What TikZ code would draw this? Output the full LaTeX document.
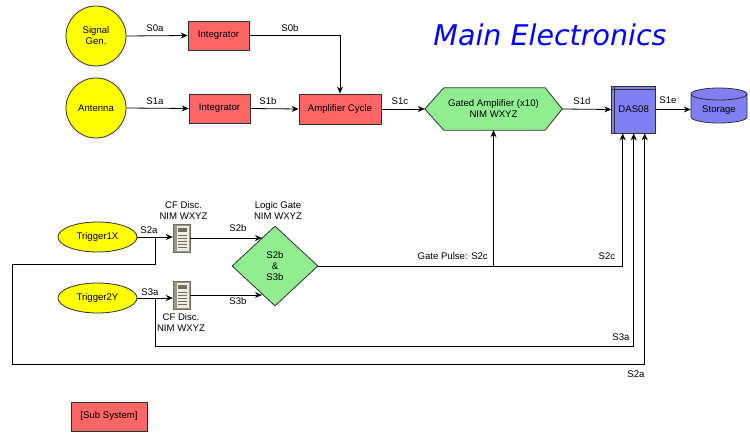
\documentclass[tikz,border=0pt]{standalone}
\usepackage{fontspec}
\setmainfont{Liberation Sans}
\newfontfamily\titlefont{DejaVu Sans}
\usetikzlibrary{arrows.meta,shapes.geometric,calc}
\definecolor{cyel}{HTML}{FFFF00}
\definecolor{cred}{HTML}{FF6666}
\definecolor{cgreen}{HTML}{90EE90}
\definecolor{cblue}{HTML}{8080F4}
\definecolor{cline}{HTML}{303030}
\definecolor{srvdark}{HTML}{9A9A80}
\definecolor{srvlight}{HTML}{ECECE0}
\definecolor{srvslot}{HTML}{6E6E60}
\newcommand{\labfont}{\fontsize{9.6}{11}\selectfont}
\tikzset{
  lab/.style={font=\labfont, inner sep=0pt},
  srcnode/.style={circle, draw=cline, line width=0.8pt, fill=cyel, minimum size=60pt, inner sep=0pt, font=\labfont, align=center},
  trig/.style={ellipse, draw=cline, line width=0.8pt, fill=cyel, minimum width=79pt, minimum height=30pt, inner sep=0pt, font=\labfont},
  subsys/.style={rectangle, draw=cline, line width=0.8pt, fill=cred, inner sep=0pt, font=\labfont},
  blank/.style={rectangle, draw=none, inner sep=0pt, font=\labfont, align=center},
  conn/.style={line width=0.8pt, draw=black},
  arr/.style={conn, -{Stealth[length=7pt,width=6pt]}},
  srv/.pic={
    \fill[srvdark] (-8.5,-14) rectangle (8.5,14);
    \fill[srvlight] (-5,-12.5) rectangle (7,12.5);
    \draw[srvslot, line width=0.4pt] (-8.5,-14) rectangle (8.5,14);
    \fill[srvslot] (-3.5,-10.5) rectangle (5.5,-6.5);
    \foreach \yy in {-3,0,3,6,9} {\draw[srvslot, line width=0.5pt] (-3.5,\yy) -- (5.5,\yy);}
  }
}
\begin{document}
\begin{tikzpicture}[x=1pt,y=-1pt]
\useasboundingbox (0,0) rectangle (750,433);
% title
\node (title) at (550,35) {\titlefont\itshape\fontsize{28.5}{32}\selectfont\color{blue}Main Electronics};
% top row
\node[srcnode] (sig) at (96,36) {Signal\\Gen.};
\node[srcnode] (ant) at (96,108) {Antenna};
\node[subsys, minimum width=61pt, minimum height=29pt] (int1) at (218.5,35.5) {Integrator};
\node[subsys, minimum width=61pt, minimum height=29pt] (int2) at (219.5,108.5) {Integrator};
\node[subsys, minimum width=82pt, minimum height=30pt] (amp) at (340,109) {Amplifier Cycle};
% gated amplifier hexagon
\node[blank, minimum width=137pt, minimum height=42pt] (gamp) at (493.5,109) {};
\draw[draw=cline, line width=0.8pt, fill=cgreen] (gamp.west) -- ($(gamp.north west)+(19,0)$) -- ($(gamp.north east)+(-17,0)$) -- (gamp.east) -- ($(gamp.south east)+(-17,0)$) -- ($(gamp.south west)+(19,0)$) -- cycle;
\node[blank] (gampt) at (gamp.center) {Gated Amplifier (x10)\\NIM WXYZ};
% DAS08
\node[subsys, fill=cblue, minimum width=44pt, minimum height=47pt] (das) at (633.7,109.5) {DAS08};
\draw[cline, line width=0.8pt] ($(das.north west)+(3.5,0)$) -- ($(das.south west)+(3.5,0)$);
\draw[cline, line width=0.8pt] ($(das.north west)+(0,3.5)$) -- ($(das.north east)+(0,3.5)$);
% storage cylinder
\node[blank, minimum width=56pt, minimum height=35pt] (sto) at (719,109) {};
\draw[draw=cline, line width=0.8pt, fill=cblue] (691,94) arc[start angle=180, end angle=360, x radius=28, y radius=6] -- (747,117) arc[start angle=0, end angle=180, x radius=28, y radius=6] -- cycle;
\draw[cline, line width=0.8pt] (691,94) arc[start angle=180, end angle=0, x radius=28, y radius=6];
\node[blank] (stot) at (719,110) {Storage};
% top connectors
\draw[arr] (sig.east) -- (int1.west);
\node[lab] (l0a) at (155,28) {S0a};
\draw[arr] (int1.east) -| (amp.north);
\node[lab] (l0b) at (290,28) {S0b};
\draw[arr] (ant.east) -- (int2.west);
\node[lab] (l1a) at (155,101) {S1a};
\draw[arr] (int2.east) -- (amp.west);
\node[lab] (l1b) at (268,101) {S1b};
\draw[arr] (amp.east) -- (gamp.west);
\node[lab] (l1c) at (400,101) {S1c};
\draw[arr] (gamp.east) -- (das.west);
\node[lab] (l1d) at (582,101) {S1d};
\draw[arr] (das.east) -- (das.east -| sto.west);
\node[lab] (l1e) at (668,100) {S1e};
% triggers
\node[trig] (t1) at (97.5,237) {Trigger1X};
\node[trig] (t2) at (97.5,298) {Trigger2Y};
\node[blank, minimum width=17pt, minimum height=28pt] (cf1) at (181.5,238) {};
\pic at (cf1.center) {srv};
\node[blank, minimum width=17pt, minimum height=28pt] (cf2) at (181.5,295) {};
\pic at (cf2.center) {srv};
\node[blank] (cf1l) at (183.5,211) {CF Disc.\\NIM WXYZ};
\node[blank] (cf2l) at (181,323) {CF Disc.\\NIM WXYZ};
% logic gate
\node[diamond, draw=cline, line width=0.8pt, fill=cgreen, minimum width=86pt, minimum height=80pt, inner sep=0pt, align=center, font=\labfont] (lg) at (275,266) {S2b\\\&\\S3b};
\node[blank] (lgl) at (278,211) {Logic Gate\\NIM WXYZ};
\coordinate (lgA) at ($(lg.west)!0.7!(lg.north)$);
\coordinate (lgB) at ($(lg.west)!0.7!(lg.south)$);
% trigger connectors
\draw[arr] (t1.east) -- (t1.east -| cf1.west);
\node[lab] (l2a) at (149,230) {S2a};
\draw[arr] (t2.east) -- (t2.east -| cf2.west);
\node[lab] (l3a) at (150,292) {S3a};
\draw[arr] (cf1.east) -- (cf1.east -| lgA);
\node[lab] (l2b) at (238,228) {S2b};
\draw[arr] (cf2.east) -- (cf2.east -| lgB);
\node[lab] (l3b) at (238,301) {S3b};
% gate pulse
\coordinate (d1) at ($(das.south)+(-11,0)$);
\coordinate (d2) at ($(das.south)$);
\coordinate (d3) at ($(das.south)+(11,0)$);
\draw[arr] (lg.east) -| (d1);
\coordinate (gbr) at (gamp.south |- lg.east);
\draw[arr] (gbr) -- (gamp.south);
\node[lab, anchor=east] (lgp) at (488,256) {Gate Pulse: S2c};
\node[lab] (l2c) at (607,256) {S2c};
% feedback lines
\coordinate (b2) at ($(t1.east)!0.5!(cf1.west |- t1.east)$);
\coordinate (b3) at ($(t2.east)!0.5!(cf2.west |- t2.east)$);
\coordinate (left2) at (12,264);
\coordinate (bot2) at (0,364);
\coordinate (bot3) at (0,346.5);
\draw[arr] (b2) |- (left2) |- (d3 |- bot2) -- (d3);
\draw[arr] (b3) |- (d2 |- bot3) -- (d2);
\node[lab] (l3a2) at (621,337) {S3a};
\node[lab] (l2a2) at (636,374) {S2a};
% legend
\node[subsys, minimum width=76pt, minimum height=29pt] (leg) at (109,416.5) {[Sub System]};
\end{tikzpicture}
\end{document}
